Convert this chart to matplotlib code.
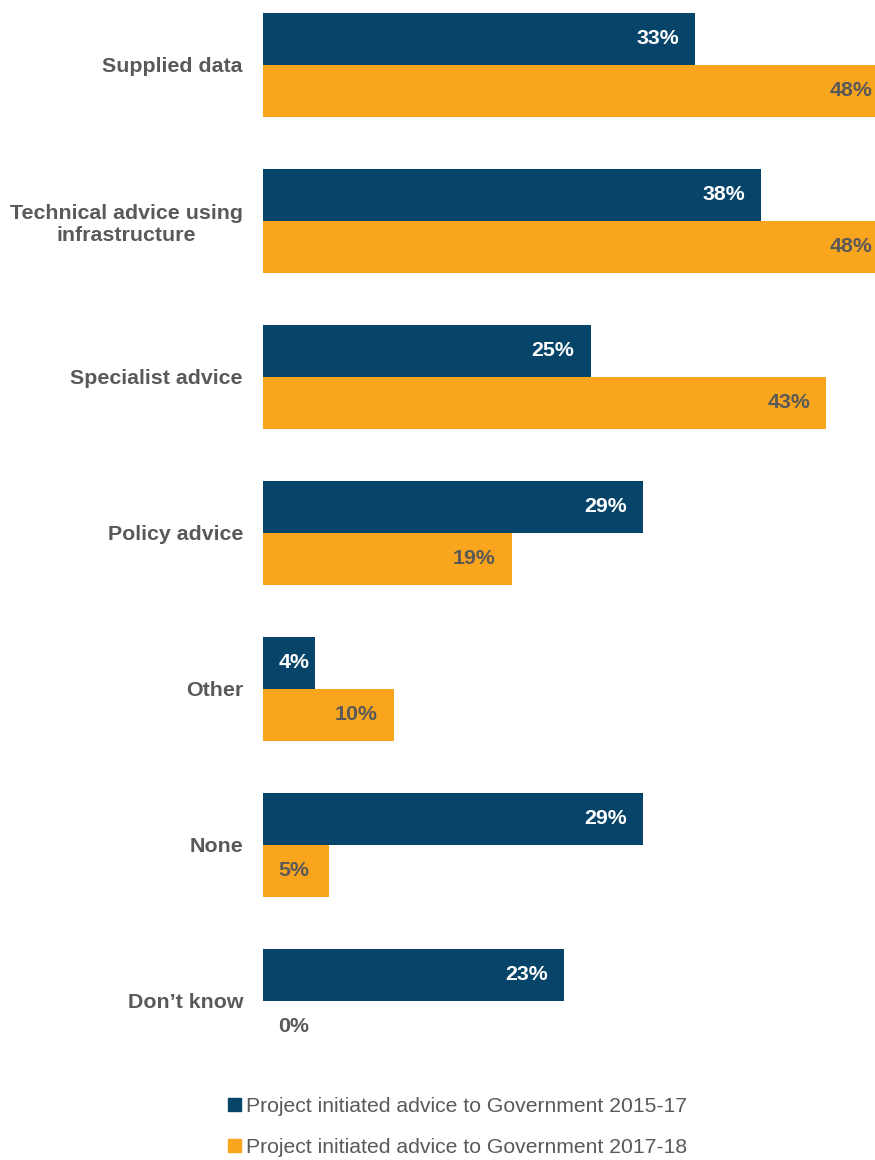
import matplotlib.pyplot as plt
import numpy as np

plt.rcParams['font.family'] = ['Liberation Sans', 'DejaVu Sans']

categories = ['Supplied data', 'Technical advice using\ninfrastructure', 'Specialist advice',
              'Policy advice', 'Other', 'None', 'Don\u2019t know']
adv_2015_17 = [33, 38, 25, 29, 4, 29, 23]
adv_2017_18 = [48, 48, 43, 19, 10, 5, 0]
series_names = ['Project initiated advice to Government 2015-17',
                'Project initiated advice to Government 2017-18']

blue = '#07446A'
orange = '#F9A61E'
grey = '#595959'

fig = plt.figure(figsize=(8.75, 11.6), dpi=100)
# axes spans from x=263px to the right edge, top of figure down to ~1060px
ax = fig.add_axes([263 / 875, 1 - 1060 / 1160, 1 - 263 / 875, 1060 / 1160])

y = np.arange(len(categories))
h = 1 / 3
ax.barh(y - h / 2, adv_2015_17, height=h, color=blue)
ax.barh(y + h / 2, adv_2017_18, height=h, color=orange)

xmax = 612 / 13.1
ax.set_xlim(0, xmax)
ax.set_ylim((1060 - 65) / 156, -65 / 156)

def label_bars(vals, ypos, color):
    for v, yy in zip(vals, ypos):
        if v <= 5:
            # short bars: label sits just right of the axis
            x, dx, ha = 0, 11, 'left'
        elif v > xmax:
            x, dx, ha = xmax, -2, 'right'
        else:
            x, dx, ha = v, -11.5, 'right'
        ax.annotate(f'{v}%', (x, yy), xytext=(dx, 0), textcoords='offset points',
                    ha=ha, va='center', fontsize=15.4, fontweight='bold',
                    color=color if v > 0 else grey)

label_bars(adv_2015_17, y - h / 2, 'white')
label_bars(adv_2017_18, y + h / 2, grey)

ax.set_yticks(y)
ax.set_yticklabels(categories, fontsize=15.4, fontweight='bold', color=grey,
                   multialignment='center')
ax.tick_params(axis='y', length=0, pad=14.4)
ax.set_xticks([])
for s in ax.spines.values():
    s.set_visible(False)

handles = [plt.Rectangle((0, 0), 1, 1, color=blue), plt.Rectangle((0, 0), 1, 1, color=orange)]
fig.legend(handles, series_names, loc='center', bbox_to_anchor=(458 / 875, 1 - 1127 / 1160),
           frameon=False, fontsize=15.2, labelcolor=grey, handlelength=0.6, handleheight=0.6,
           handletextpad=0.25, labelspacing=1.05)

fig.savefig('out.png', dpi=100)
